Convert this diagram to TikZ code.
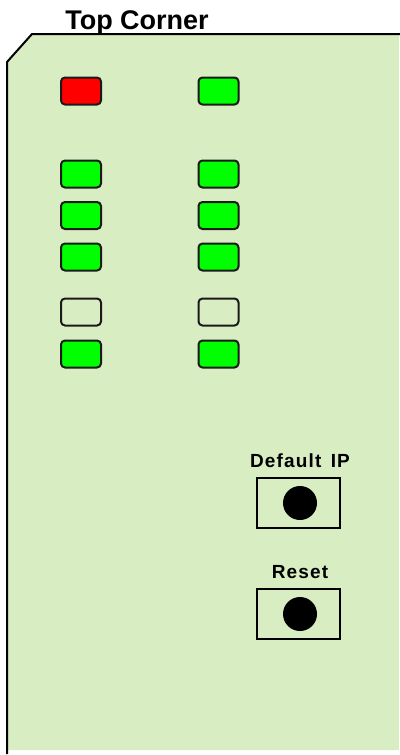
\documentclass[tikz,border=0pt]{standalone}
\usepackage{fontspec}
\setmainfont{Liberation Sans}
\definecolor{panel}{RGB}{217,237,195}
\definecolor{ledgreen}{RGB}{0,255,0}
\definecolor{ledred}{RGB}{255,0,0}
\definecolor{ledline}{RGB}{26,26,26}
\tikzset{
  led/.style={draw=ledline, line width=2pt, rounded corners=4pt, minimum width=40pt, minimum height=27pt, inner sep=0pt},
  btnbox/.style={draw=black, line width=1.4pt, minimum width=83pt, minimum height=50pt, inner sep=0pt},
  btndot/.style={circle, fill=black, minimum size=34pt, inner sep=0pt},
  lbl/.style={font=\fontsize{19}{22}\selectfont\bfseries\addfontfeature{LetterSpace=6}, inner sep=0pt}
}
\begin{document}
\begin{tikzpicture}[x=1pt,y=-1pt]
\useasboundingbox (0,0) rectangle (399,755);
\fill[panel] (32,34) -- (399,34) -- (399,750) -- (7,750) -- (7,62) -- cycle;
\draw[line width=2pt, line cap=rect] (399,34) -- (32,34) -- (7,62) -- (7,753);
\node[font=\fontsize{27}{30}\selectfont\bfseries, inner sep=0pt, anchor=base] (title) at (137,29) {Top Corner};
% LEDs
\node[led, fill=ledred] (l1) at (81,91) {};
\node[led, fill=ledgreen] (r1) at (218.5,91) {};
\node[led, fill=ledgreen] (l2) at (81,174) {};
\node[led, fill=ledgreen] (r2) at (218.5,174) {};
\node[led, fill=ledgreen] (l3) at (81,215.5) {};
\node[led, fill=ledgreen] (r3) at (218.5,215.5) {};
\node[led, fill=ledgreen] (l4) at (81,257) {};
\node[led, fill=ledgreen] (r4) at (218.5,257) {};
\node[led, fill=panel] (l5) at (81,312) {};
\node[led, fill=panel] (r5) at (218.5,312) {};
\node[led, fill=ledgreen] (l6) at (81,354) {};
\node[led, fill=ledgreen] (r6) at (218.5,354) {};
% buttons
\node[lbl, anchor=base] (dlbl) at (300,467) {Default\hspace{3pt} IP};
\node[btnbox] (dbox) at (298.5,503) {};
\node[btndot] (ddot) at (300,503) {};
\node[lbl, anchor=base] (rlbl) at (300,578) {Reset};
\node[btnbox] (rbox) at (298.5,614) {};
\node[btndot] (rdot) at (300,614) {};
\end{tikzpicture}
\end{document}
